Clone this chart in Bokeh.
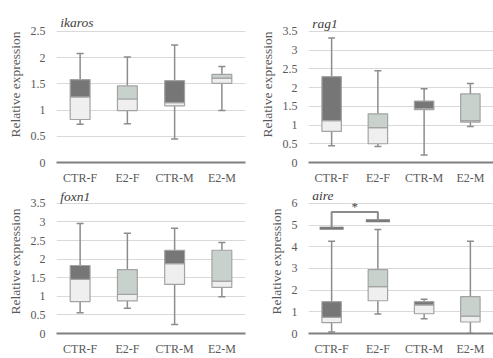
from bokeh.plotting import figure
from bokeh.layouts import gridplot
from bokeh.models import Range1d, FixedTicker, Label
from bokeh.embed import file_html
from bokeh.resources import INLINE

groups = ["CTR-F", "E2-F", "CTR-M", "E2-M"]
upper_colors = ["#767676", "#c9d1cd", "#767676", "#c9d1cd"]
lower_color = "#efefef"

# ikaros
ikaros_min = [0.73, 0.74, 0.45, 0.99]
ikaros_q1 = [0.82, 0.99, 1.08, 1.51]
ikaros_med = [1.25, 1.21, 1.14, 1.61]
ikaros_q3 = [1.58, 1.46, 1.56, 1.68]
ikaros_max = [2.08, 2.01, 2.24, 1.83]
ikaros_ticks = [0, 0.5, 1, 1.5, 2, 2.5]

# rag1
rag1_min = [0.45, 0.43, 0.20, 0.96]
rag1_q1 = [0.83, 0.50, 1.41, 1.08]
rag1_med = [1.12, 0.93, 1.44, 1.12]
rag1_q3 = [2.29, 1.30, 1.64, 1.83]
rag1_max = [3.32, 2.45, 1.97, 2.11]
rag1_ticks = [0, 0.5, 1, 1.5, 2, 2.5, 3, 3.5]

# foxn1
foxn1_min = [0.56, 0.68, 0.24, 0.99]
foxn1_q1 = [0.86, 0.88, 1.32, 1.24]
foxn1_med = [1.46, 1.05, 1.88, 1.41]
foxn1_q3 = [1.83, 1.72, 2.24, 2.24]
foxn1_max = [2.96, 2.70, 2.83, 2.45]
foxn1_ticks = [0, 0.5, 1, 1.5, 2, 2.5, 3, 3.5]

# aire
aire_min = [0.07, 0.90, 0.68, 0.0]
aire_q1 = [0.50, 1.51, 0.91, 0.53]
aire_med = [0.75, 2.16, 1.32, 0.80]
aire_q3 = [1.47, 2.95, 1.47, 1.70]
aire_max = [4.25, 4.80, 1.58, 4.25]
aire_ticks = [0, 1, 2, 3, 4, 5, 6]
aire_sig_levels = [4.85, 5.2]
aire_bracket_top = 5.6
aire_sig_label = "*"

FONT = "Liberation Serif"
TXT = "#595959"


def panel(name, mins, q1, med, q3, maxs, ticks, w, h, bl, br, bt, bb, pad_px, title_dy):
    plot_px = h - bt - bb - pad_px
    top = ticks[-1]
    y_end = top * (1 + pad_px / plot_px)
    p = figure(width=w, height=h, output_backend="svg", toolbar_location=None,
               x_range=Range1d(0, len(groups)), y_range=Range1d(0, y_end),
               min_border_left=bl, min_border_right=br, min_border_top=bt,
               min_border_bottom=bb, outline_line_color=None)
    xs = [i + 0.5 for i in range(len(groups))]
    bw = 0.42
    cw = 0.15
    wc = "#8c8c8c"
    # whiskers
    p.segment(xs, mins, xs, q1, line_color=wc, line_width=1.5)
    p.segment(xs, q3, xs, maxs, line_color=wc, line_width=1.5)
    p.segment([x - cw / 2 for x in xs], mins, [x + cw / 2 for x in xs], mins,
              line_color=wc, line_width=1.5)
    p.segment([x - cw / 2 for x in xs], maxs, [x + cw / 2 for x in xs], maxs,
              line_color=wc, line_width=1.5)
    # boxes
    p.vbar(x=xs, bottom=q1, top=med, width=bw, fill_color=lower_color,
           line_color="#a3a3a3", line_width=1.2)
    p.vbar(x=xs, bottom=med, top=q3, width=bw, fill_color=upper_colors,
           line_color="#a3a3a3", line_width=1.2)

    p.xgrid.grid_line_color = None
    p.ygrid.grid_line_color = "#d9d9d9"
    p.ygrid.grid_line_width = 1
    p.ygrid.ticker = FixedTicker(ticks=ticks)

    xa = p.xaxis[0]
    xa.ticker = FixedTicker(ticks=xs)
    xa.major_label_overrides = {x: g for x, g in zip(xs, groups)}
    xa.axis_line_color = "#808080"
    xa.axis_line_width = 2
    xa.major_tick_line_color = None
    xa.minor_tick_line_color = None
    xa.major_tick_out = 0
    xa.major_tick_in = 0
    xa.minor_tick_out = 0
    xa.major_label_standoff = 8
    xa.major_label_text_font = FONT
    xa.major_label_text_font_size = "12px"
    xa.major_label_text_color = TXT

    ya = p.yaxis[0]
    ya.ticker = FixedTicker(ticks=ticks)
    ya.major_label_overrides = {t: f"{t:g}" for t in ticks}
    ya.axis_line_color = None
    ya.major_tick_line_color = None
    ya.minor_tick_line_color = None
    ya.major_tick_out = 0
    ya.major_tick_in = 0
    ya.minor_tick_out = 0
    ya.major_label_standoff = 11
    ya.major_label_text_font = FONT
    ya.major_label_text_font_size = "12px"
    ya.major_label_text_color = TXT
    ya.axis_label = "Relative expression"
    ya.axis_label_text_font = FONT
    ya.axis_label_text_font_size = "13.5px"
    ya.axis_label_text_font_style = "normal"
    ya.axis_label_text_color = TXT
    ya.axis_label_standoff = 5

    p.add_layout(Label(x=0.08, y=top, y_offset=title_dy, text=name,
                       text_font=FONT, text_font_size="13.5px",
                       text_font_style="italic", text_color="#404040",
                       text_baseline="middle", text_align="left"))
    return p


p1 = panel("ikaros", ikaros_min, ikaros_q1, ikaros_med, ikaros_q3, ikaros_max,
           ikaros_ticks, 250, 187, 56, 3, 6, 24, 25, 9)
p2 = panel("rag1", rag1_min, rag1_q1, rag1_med, rag1_q3, rag1_max,
           rag1_ticks, 243, 187, 58, 0, 6, 24, 25, 8)
p3 = panel("foxn1", foxn1_min, foxn1_q1, foxn1_med, foxn1_q3, foxn1_max,
           foxn1_ticks, 250, 171, 56, 5, 2, 24, 14, 7)
p4 = panel("aire", aire_min, aire_q1, aire_med, aire_q3, aire_max,
           aire_ticks, 243, 171, 58, 0, 2, 24, 14, 8)

# significance bracket on aire
bx = [0.5, 1.5]
bar_w = 0.52
p4.segment([x - bar_w / 2 for x in bx], aire_sig_levels,
           [x + bar_w / 2 for x in bx], aire_sig_levels,
           line_color="#7a7a7a", line_width=3)
p4.line([bx[0], bx[0], bx[1], bx[1]],
        [aire_sig_levels[0], aire_bracket_top, aire_bracket_top, aire_sig_levels[1]],
        line_color="#8c8c8c", line_width=2)
p4.add_layout(Label(x=sum(bx) / 2, y=aire_ticks[-1], y_offset=-3, text=aire_sig_label,
                    text_font=FONT, text_font_size="13px", text_color="#404040",
                    text_align="center", text_baseline="middle"))

grid = gridplot([[p1, p2], [p3, p4]], toolbar_location=None)

open("out.html", "w").write(file_html(grid, INLINE))
